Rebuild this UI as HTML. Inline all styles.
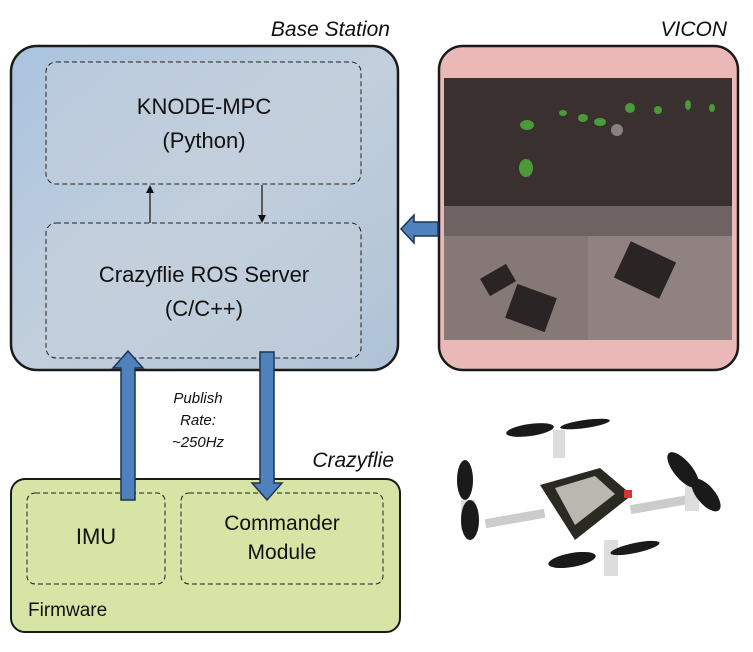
<!DOCTYPE html>
<html><head><style>
body{margin:0;background:#fff;}
svg{display:block;font-family:"Liberation Sans",sans-serif;}
</style></head><body>
<svg width="753" height="652" viewBox="0 0 753 652">
<defs>
<linearGradient id="bs" x1="0" y1="0" x2="1" y2="1">
<stop offset="0" stop-color="#a9c3df"/><stop offset="0.5" stop-color="#c2cfdc"/><stop offset="1" stop-color="#aec2d6"/>
</linearGradient>
</defs>
<!-- Base station -->
<rect x="11" y="46" width="387" height="324" rx="26" fill="url(#bs)" stroke="#1a1a1a" stroke-width="2.5"/>
<rect x="46" y="62" width="315" height="122" rx="10" fill="#c5d0dc" fill-opacity="0.5" stroke="#222" stroke-dasharray="5,3"/>
<rect x="46" y="223" width="315" height="135" rx="10" fill="#c5d0dc" fill-opacity="0.5" stroke="#222" stroke-dasharray="5,3"/>
<text x="204" y="114" font-size="22" text-anchor="middle" fill="#111">KNODE-MPC</text>
<text x="204" y="148" font-size="22" text-anchor="middle" fill="#111">(Python)</text>
<text x="204" y="282" font-size="22" text-anchor="middle" fill="#111">Crazyflie ROS Server</text>
<text x="204" y="316" font-size="22" text-anchor="middle" fill="#111">(C/C++)</text>
<line x1="150" y1="223" x2="150" y2="190" stroke="#111" stroke-width="1.2"/>
<polygon points="150,185 146,193 154,193" fill="#111"/>
<line x1="262" y1="185" x2="262" y2="218" stroke="#111" stroke-width="1.2"/>
<polygon points="262,223 258,215 266,215" fill="#111"/>
<text x="390" y="36" font-size="21" font-style="italic" text-anchor="end" fill="#111">Base Station</text>
<!-- VICON -->
<text x="727" y="36" font-size="21" font-style="italic" text-anchor="end" fill="#111">VICON</text>
<rect x="439" y="46" width="299" height="324" rx="24" fill="#ebb8b8" stroke="#1a1a1a" stroke-width="2.5"/>
<rect x="444" y="78" width="288" height="128" fill="#3a302f"/>
<rect x="444" y="206" width="288" height="30" fill="#6e6262"/>
<rect x="444" y="236" width="288" height="104" fill="#8f8280"/>
<rect x="444" y="236" width="144" height="104" fill="#857876"/>
<g fill="#4a9a3a">
<ellipse cx="527" cy="125" rx="7" ry="5"/><ellipse cx="563" cy="113" rx="4" ry="3"/><ellipse cx="583" cy="118" rx="5" ry="4"/><ellipse cx="600" cy="122" rx="6" ry="4"/><ellipse cx="630" cy="108" rx="5" ry="5"/><ellipse cx="658" cy="110" rx="4" ry="4"/><ellipse cx="688" cy="105" rx="3" ry="5"/><ellipse cx="712" cy="108" rx="3" ry="4"/><ellipse cx="526" cy="168" rx="7" ry="9"/>
</g>
<ellipse cx="617" cy="130" rx="6" ry="6" fill="#8b8080"/>
<g fill="#2a2424"><rect x="483" y="270" width="30" height="20" transform="rotate(-30 498 280)"/><rect x="510" y="290" width="42" height="36" transform="rotate(20 531 308)"/><rect x="620" y="250" width="50" height="40" transform="rotate(25 645 270)"/></g>
<polygon points="438,222 414,222 414,215 401,229 414,243 414,236 438,236" fill="#4f81bd" stroke="#1f3550" stroke-width="1.5"/>
<!-- Crazyflie -->
<rect x="11" y="479" width="389" height="153" rx="14" fill="#d6e4a6" stroke="#1a1a1a" stroke-width="2"/>
<rect x="27" y="493" width="138" height="91" rx="8" fill="none" stroke="#222" stroke-dasharray="5,3"/>
<rect x="181" y="493" width="202" height="91" rx="8" fill="none" stroke="#222" stroke-dasharray="5,3"/>
<text x="96" y="544" font-size="22" text-anchor="middle" fill="#111">IMU</text>
<text x="282" y="530" font-size="21" text-anchor="middle" fill="#111">Commander</text>
<text x="282" y="559" font-size="21" text-anchor="middle" fill="#111">Module</text>
<text x="28" y="616" font-size="19" fill="#111">Firmware</text>
<text x="394" y="467" font-size="21" font-style="italic" text-anchor="end" fill="#111">Crazyflie</text>
<!-- arrows -->
<polygon points="121,500 121,368 113,368 128,351 143,368 135,368 135,500" fill="#4f81bd" stroke="#1f3550" stroke-width="1.5"/>
<polygon points="260,352 274,352 274,483 282,483 267,500 252,483 260,483" fill="#4f81bd" stroke="#1f3550" stroke-width="1.5"/>
<text x="198" y="403" font-size="15" font-style="italic" text-anchor="middle" fill="#111">Publish</text>
<text x="198" y="425" font-size="15" font-style="italic" text-anchor="middle" fill="#111">Rate:</text>
<text x="198" y="447" font-size="15" font-style="italic" text-anchor="middle" fill="#111">~250Hz</text>
<!-- drone -->
<g>
<rect x="485" y="514" width="60" height="9" fill="#ccc" transform="rotate(-10 515 518)"/>
<rect x="630" y="500" width="60" height="9" fill="#ccc" transform="rotate(-10 660 504)"/>
<polygon points="540,485 600,468 632,495 575,540" fill="#2a2a22"/>
<polygon points="555,488 595,476 615,494 575,525" fill="#b8b8b0"/>
<rect x="624" y="490" width="8" height="8" fill="#d33"/>
<rect x="553" y="430" width="12" height="28" fill="#ddd"/>
<rect x="604" y="540" width="14" height="36" fill="#ddd"/>
<rect x="685" y="483" width="14" height="28" fill="#ddd"/>
<rect x="461" y="500" width="14" height="30" fill="#ddd"/>
<ellipse cx="530" cy="430" rx="24" ry="6" fill="#1a1a1a" transform="rotate(-8 530 430)"/>
<ellipse cx="585" cy="424" rx="25" ry="4" fill="#1a1a1a" transform="rotate(-8 585 424)"/>
<ellipse cx="572" cy="560" rx="24" ry="7" fill="#1a1a1a" transform="rotate(-10 572 560)"/>
<ellipse cx="635" cy="548" rx="25" ry="5" fill="#1a1a1a" transform="rotate(-12 635 548)"/>
<ellipse cx="683" cy="470" rx="9" ry="22" fill="#1a1a1a" transform="rotate(-40 683 470)"/>
<ellipse cx="706" cy="495" rx="9" ry="20" fill="#1a1a1a" transform="rotate(-40 706 495)"/>
<ellipse cx="465" cy="480" rx="8" ry="20" fill="#1a1a1a"/>
<ellipse cx="470" cy="520" rx="9" ry="20" fill="#1a1a1a"/>
</g>
</svg>
</body></html>
